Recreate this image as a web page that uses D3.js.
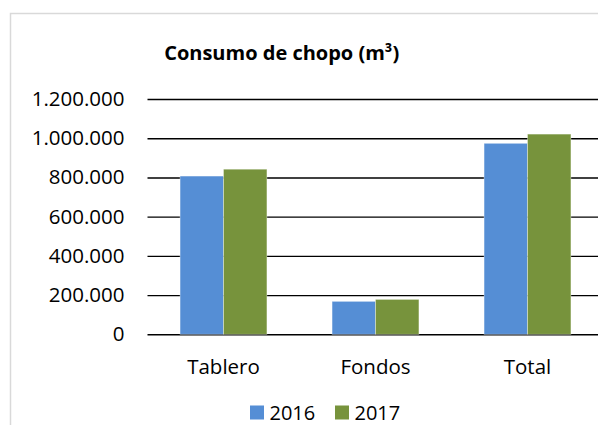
<!DOCTYPE html>
<html><head><meta charset="utf-8">
<script src="https://cdn.jsdelivr.net/npm/d3@7"></script>
<style>body{margin:0;background:#fff;overflow:hidden}svg{display:block}</style>
</head><body>
<script>
const categories = ["Tablero", "Fondos", "Total"];
const seriesNames = ["2016", "2017"];
const values2016 = [807000, 168000, 974000];
const values2017 = [842000, 178000, 1021000];
const tickValues = [0, 200000, 400000, 600000, 800000, 1000000, 1200000];
const colors = ["#558ED5", "#77933C"];
const title = "Consumo de chopo (m³)";

const W = 598, H = 425;
const svg = d3.select("body").append("svg").attr("width", W).attr("height", H);
const font = "'Open Sans', sans-serif";

svg.append("rect").attr("x", 10.5).attr("y", 13.5).attr("width", 620).attr("height", 450)
  .attr("fill", "#fff").attr("stroke", "#d9d9d9").attr("stroke-width", 1.5);

const x0 = d3.scaleBand().domain(categories).range([147.5, 603.5]).paddingInner(0).paddingOuter(0);
const x1 = d3.scaleBand().domain(seriesNames).range([0, x0.bandwidth()]).paddingInner(0).paddingOuter(0.75);
const y = d3.scaleLinear().domain([0, 1200000]).range([334.3, 99]);

const fmt = v => d3.format(",")(v).replace(/,/g, ".");

const yAxis = d3.axisLeft(y).tickValues(tickValues).tickFormat(fmt).tickSize(-(603.5 - 147.5)).tickPadding(23);
const gy = svg.append("g").attr("transform", "translate(147.5,0)").call(yAxis);
gy.select(".domain").remove();
gy.selectAll(".tick line").attr("stroke", "#000").attr("stroke-width", 1.4);
gy.selectAll(".tick text").attr("font-family", font).attr("font-size", 20.5).attr("fill", "#000");

const data = categories.map((c, i) => ({cat: c, vals: [values2016[i], values2017[i]]}));
const groups = svg.append("g").selectAll("g").data(data).join("g")
  .attr("transform", d => `translate(${x0(d.cat)},0)`);
groups.selectAll("rect").data(d => d.vals.map((v, j) => ({s: seriesNames[j], v, j}))).join("rect")
  .attr("x", d => x1(d.s)).attr("width", x1.bandwidth())
  .attr("y", d => y(d.v)).attr("height", d => y(0) - y(d.v))
  .attr("fill", d => colors[d.j]).attr("stroke", "rgba(255,255,255,0.45)").attr("stroke-width", 0.8);

const xAxis = d3.axisBottom(x0).tickSize(0).tickPadding(0);
const gx = svg.append("g").attr("transform", "translate(0,334.3)").call(xAxis);
gx.select(".domain").remove();
gx.selectAll(".tick text").attr("font-family", font).attr("font-size", 20.5).attr("fill", "#000")
  .attr("dy", null).attr("y", 40);

svg.append("text").attr("x", 281.7).attr("y", 60).attr("text-anchor", "middle")
  .attr("font-family", font).attr("font-weight", "bold").attr("font-size", 20).attr("fill", "#000")
  .text(title);

const legend = svg.append("g");
const legX = [250, 335];
seriesNames.forEach((s, i) => {
  legend.append("rect").attr("x", legX[i]).attr("y", 405.5).attr("width", 14).attr("height", 14).attr("fill", colors[i]);
  legend.append("text").attr("x", legX[i] + 19.5).attr("y", 419.5).attr("font-family", font)
    .attr("font-size", 20).attr("fill", "#000").text(s);
});
</script>
</body></html>
